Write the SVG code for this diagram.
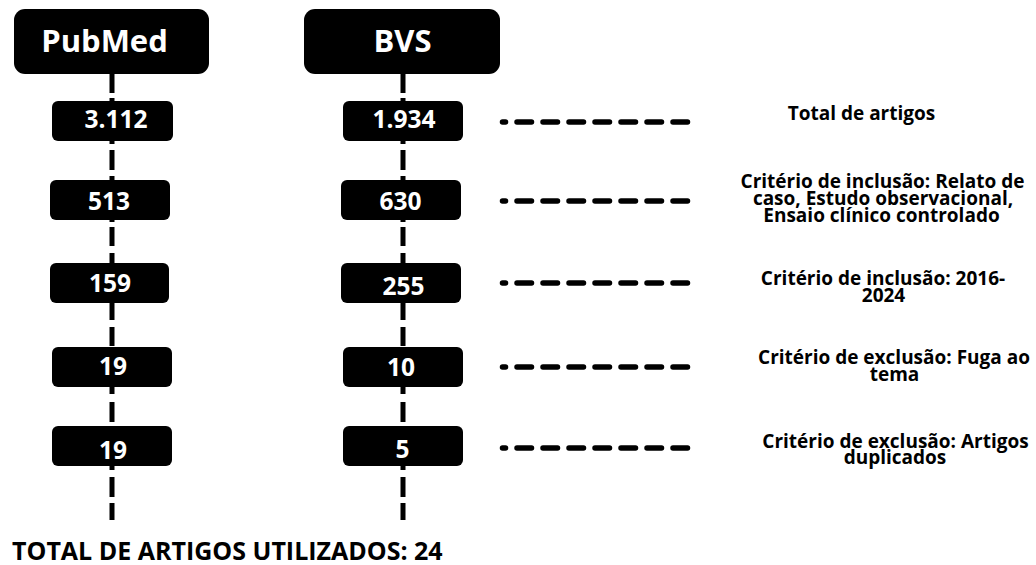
<svg xmlns="http://www.w3.org/2000/svg" width="1036" height="565" viewBox="0 0 1036 565">
<style>
  .hdr { fill: #000; }
  .box { fill: #000; }
  .t { font-family: "Open Sans", "DejaVu Sans", sans-serif; font-weight: 700; }
  .ht { fill: #fff; font-size: 31px; text-anchor: middle; }
  .nt { fill: #fff; font-size: 24.5px; text-anchor: middle; }
  .lt { fill: #000; font-size: 19px; text-anchor: middle; }
  .ft { fill: #000; font-size: 25px; }
  .vl { fill: none; stroke: #000; stroke-width: 5; stroke-linecap: butt; }
  .hl { fill: none; stroke: #000; stroke-width: 5.5; stroke-linecap: round; stroke-dasharray: 14.5 11.5; }
  .hd { fill: none; stroke: #000; stroke-width: 5.5; stroke-linecap: round; }
</style>
<defs>
  <path id="vseg" d="M0 74V93M0 98V101M0 141V144M0 150V170M0 176V180M0 220V222M0 227V246M0 253V263M0 303V320M0 327V346M0 387V394M0 402V422M0 466V470M0 477V497M0 503V520"/>
  <g id="hdash">
    <line class="hd" x1="502.5" y1="0" x2="505.5" y2="0"/>
    <line class="hl" x1="517" y1="0" x2="688" y2="0"/>
  </g>
</defs>
<rect width="1036" height="565" fill="#fff"/>

<g id="connectors">
  <use href="#vseg" class="vl" x="112" y="0"/>
  <use href="#vseg" class="vl" x="403" y="0"/>
  <use href="#hdash" y="122"/>
  <use href="#hdash" y="201"/>
  <use href="#hdash" y="283"/>
  <use href="#hdash" y="367"/>
  <use href="#hdash" y="448"/>
</g>

<g id="pubmed">
  <rect class="hdr" x="14" y="9" width="195" height="65" rx="11"/>
  <text class="t ht" x="104.5" y="52">PubMed</text>
</g>
<g id="bvs">
  <rect class="hdr" x="304" y="9" width="196" height="65" rx="11"/>
  <text class="t ht" x="402.5" y="52">BVS</text>
</g>

<g id="pm1"><rect class="box" x="52" y="101" width="121" height="40" rx="6"/><text class="t nt" x="116" y="127.5">3.112</text></g>
<g id="pm2"><rect class="box" x="50" y="180" width="120" height="40" rx="6"/><text class="t nt" x="109" y="209.5">513</text></g>
<g id="pm3"><rect class="box" x="50" y="263" width="119" height="40" rx="6"/><text class="t nt" x="110" y="292">159</text></g>
<g id="pm4"><rect class="box" x="52" y="347" width="120" height="40" rx="6"/><text class="t nt" x="113" y="374.5">19</text></g>
<g id="pm5"><rect class="box" x="52" y="426" width="120" height="40" rx="6"/><text class="t nt" x="113" y="459">19</text></g>

<g id="bvs1"><rect class="box" x="343" y="101" width="120" height="40" rx="6"/><text class="t nt" x="404" y="127.5">1.934</text></g>
<g id="bvs2"><rect class="box" x="341" y="180" width="120" height="40" rx="6"/><text class="t nt" x="400.5" y="209.5">630</text></g>
<g id="bvs3"><rect class="box" x="341" y="263" width="120" height="40" rx="6"/><text class="t nt" x="403.5" y="295">255</text></g>
<g id="bvs4"><rect class="box" x="343" y="347" width="120" height="40" rx="6"/><text class="t nt" x="401" y="376">10</text></g>
<g id="bvs5"><rect class="box" x="343" y="426" width="120" height="40" rx="6"/><text class="t nt" x="402.5" y="458">5</text></g>

<g id="label1"><text class="t lt" x="861.5" y="120">Total de artigos</text></g>
<g id="label2">
  <text class="t lt" x="882.5" y="188">Critério de inclusão: Relato de</text>
  <text class="t lt" x="883" y="205">caso, Estudo observacional,</text>
  <text class="t lt" x="881.5" y="222">Ensaio clínico controlado</text>
</g>
<g id="label3">
  <text class="t lt" x="883" y="285">Critério de inclusão: 2016-</text>
  <text class="t lt" x="883.5" y="302">2024</text>
</g>
<g id="label4">
  <text class="t lt" x="894" y="364">Critério de exclusão: Fuga ao</text>
  <text class="t lt" x="894.5" y="381">tema</text>
</g>
<g id="label5">
  <text class="t lt" x="895.5" y="448">Critério de exclusão: Artigos</text>
  <text class="t lt" x="895" y="464">duplicados</text>
</g>

<g id="total"><text class="t ft" x="12" y="560">TOTAL DE ARTIGOS UTILIZADOS: 24</text></g>
</svg>
